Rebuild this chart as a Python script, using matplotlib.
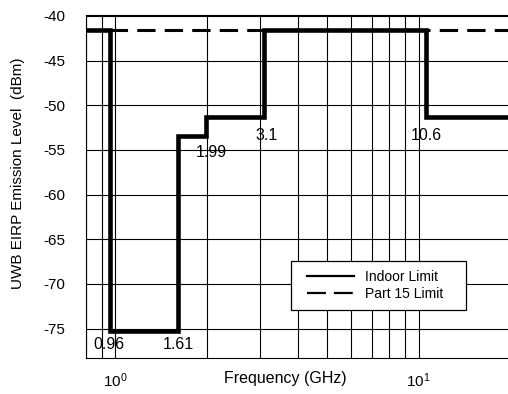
import matplotlib
matplotlib.use("Agg")
import matplotlib.pyplot as plt
from matplotlib.ticker import FixedLocator, NullFormatter
from matplotlib.lines import Line2D
from matplotlib.patches import Rectangle

plt.rcParams['font.family'] = ['Liberation Sans', 'DejaVu Sans']
plt.rcParams['axes.unicode_minus'] = False
plt.rcParams['mathtext.fontset'] = 'custom'
plt.rcParams['mathtext.rm'] = 'Liberation Sans'
plt.rcParams['mathtext.it'] = 'Liberation Sans:italic'
plt.rcParams['mathtext.bf'] = 'Liberation Sans:bold'

# Indoor limit step breakpoints (GHz) and levels (dBm)
indoor_freq = [0.8, 0.96, 0.96, 1.61, 1.61, 1.99, 1.99, 3.1, 3.1, 10.6, 10.6, 20.0]
indoor_level = [-41.6, -41.6, -75.3, -75.3, -53.4, -53.4, -51.3, -51.3, -41.6, -41.6, -51.3, -51.3]
part15_freq = [0.8, 20.0]
part15_level = [-41.6, -41.6]

label_text = ["0.96", "1.61", "1.99", "3.1", "10.6"]
label_freq = [0.955, 1.615, 2.075, 3.15, 10.57]
label_level = [-76.8, -76.8, -55.3, -53.4, -53.4]

yticks = [-75, -70, -65, -60, -55, -50, -45, -40]
minor_x = [0.8, 0.9, 2, 3, 4, 5, 6, 7, 8, 9, 20]

W, H = 508, 394
fig = plt.figure(figsize=(W / 100, H / 100), dpi=100)
ax = fig.add_axes([86 / W, 36 / H, 424 / W, 343 / H])

ax.plot(part15_freq, part15_level, color='black', lw=2.2,
        ls=(1.4, (6.0, 3.0)), zorder=3)
ax.plot(indoor_freq, indoor_level, color='black', lw=3.3,
        solid_joinstyle='miter', zorder=4)

ax.set_xscale('log')
ax.set_xlim(0.8, 20)
ax.set_ylim(-78.3, -39.9)
ax.set_yticks(yticks)
ax.xaxis.set_minor_locator(FixedLocator(minor_x))
ax.xaxis.set_minor_formatter(NullFormatter())
ax.grid(True, which='both', axis='x', color='black', lw=0.8)
ax.grid(True, which='major', axis='y', color='black', lw=0.8)
ax.tick_params(which='both', length=0, labelsize=11)
ax.tick_params(axis='y', pad=15)
ax.tick_params(axis='x', pad=10)
for s in ax.spines.values():
    s.set_linewidth(0.8)

for t, f, l in zip(label_text, label_freq, label_level):
    ax.text(f, l, t, ha='center', va='center', fontsize=11.5, zorder=5)

ax.set_xlabel('Frequency (GHz)', fontsize=11.5)
ax.xaxis.set_label_coords((285 - 86) / 424, (358 - 378) / 343)
ax.xaxis.label.set_va('center')
ax.set_ylabel('UWB EIRP Emission Level  (dBm)', fontsize=11)
ax.yaxis.set_label_coords((18 - 86) / 424, (358 - 173) / 343)
ax.yaxis.label.set_va('center')

# legend box
box = Rectangle((291 / W, 1 - 310 / H), 175 / W, 49 / H, transform=fig.transFigure,
                facecolor='white', edgecolor='black', lw=0.9, zorder=6, clip_on=False)
ax.add_patch(box)
handles = [Line2D([], [], color='black', lw=1.6),
           Line2D([], [], color='black', lw=1.6, ls=(0, (8.5, 3.6)))]
leg = ax.legend(handles, ['Indoor Limit', 'Part 15 Limit'], loc='center left',
                bbox_to_anchor=(307 / W, 1 - 285.5 / H), bbox_transform=fig.transFigure,
                fontsize=10, frameon=False, borderpad=0, borderaxespad=0,
                handlelength=3.4, handletextpad=0.8, labelspacing=0.2)
leg.set_zorder(7)

fig.savefig('out.png', dpi=100)
